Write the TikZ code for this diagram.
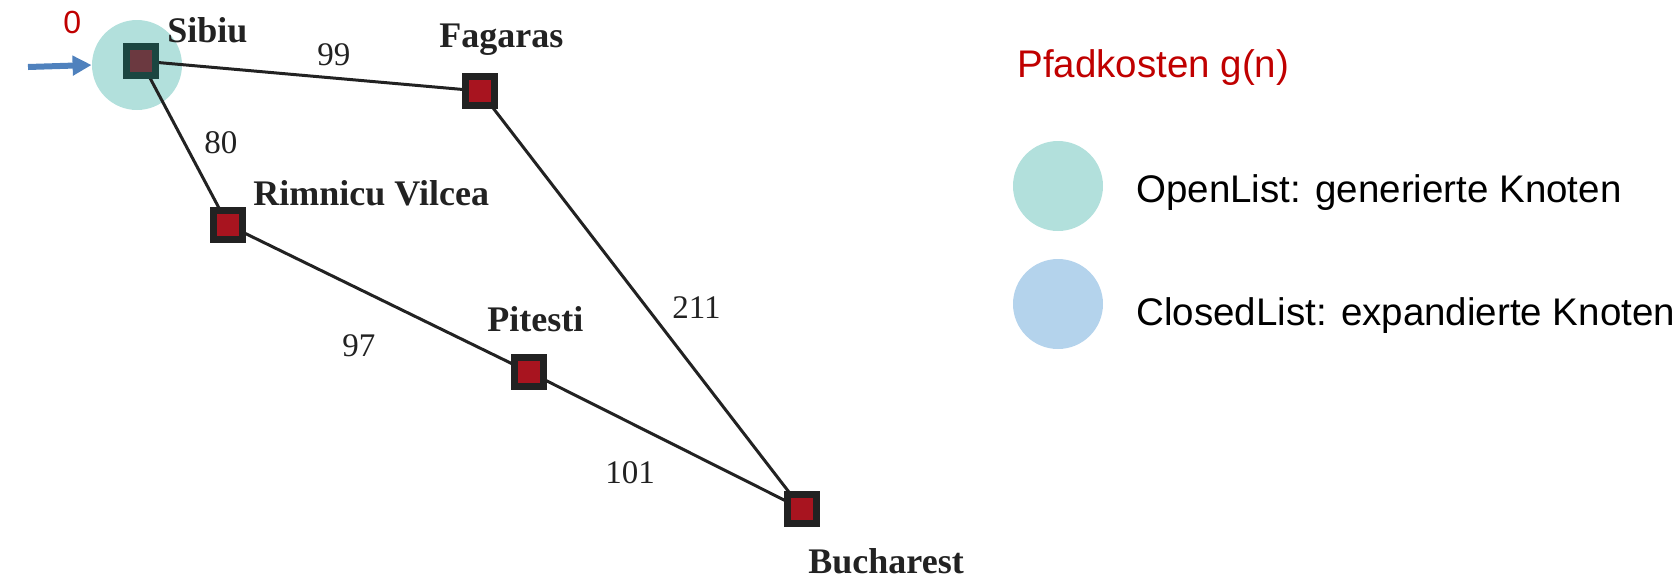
\documentclass[tikz,border=0pt]{standalone}
\usepackage{fontspec}
\setmainfont{Liberation Serif}
\newfontfamily\legfont{Liberation Sans}
\usetikzlibrary{arrows.meta}
\definecolor{openc}{HTML}{B2E0DC}
\definecolor{closedc}{HTML}{B4D3EC}
\definecolor{redtxt}{HTML}{C00000}
\definecolor{sqfill}{HTML}{A8141F}
\definecolor{sqline}{HTML}{222222}
\definecolor{arrowc}{HTML}{4F81BD}
\definecolor{sibline}{HTML}{1B4641}
\definecolor{sibfill}{HTML}{6B3940}
\tikzset{
  city/.style={draw=sqline, fill=sqfill, line width=3.5pt, minimum size=14.5pt, inner sep=0pt, shape=rectangle},
  cityname/.style={anchor=base west, inner sep=0pt, font=\fontsize{18}{20}\selectfont\bfseries, text=sqline},
  cost/.style={anchor=base west, inner sep=0pt, font=\fontsize{16.5}{18}\selectfont, text=sqline},
  road/.style={draw=sqline, line width=1.5pt},
  legtext/.style={anchor=base west, inner sep=0pt, font=\legfont\fontsize{19.25}{21}\selectfont},
  legdot/.style={circle, minimum size=45pt, inner sep=0pt},
}
\begin{document}
\begin{tikzpicture}[x=0.5pt,y=-0.5pt]
\useasboundingbox (0,0) rectangle (1678,585);
% open circle around Sibiu
\node[legdot, fill=openc] (sibcirc) at (137,65) {};
% cities
\node[city] (fag) at (480,91) {};
\node[city] (rim) at (228,225) {};
\node[city] (pit) at (529,372) {};
\node[city] (buc) at (802,509) {};
\node[city, draw=sibline, fill=sibfill] (sib) at (141,61) {};
% roads
\draw[road] (sib.center) -- (fag.center);
\draw[road] (sib.center) -- (rim.center);
\draw[road] (rim.center) -- (pit.center);
\draw[road] (pit.center) -- (buc.center);
\draw[road] (fag.center) -- (buc.center);
% redraw squares on top
\node[city] at (fag) {};
\node[city] at (rim) {};
\node[city] at (pit) {};
\node[city] at (buc) {};
\node[city, draw=sibline, fill=sibfill] at (sib) {};
% city names
\node[cityname] (lsib) at (167,42) {Sibiu};
\node[cityname] (lfag) at (439,47) {Fagaras};
\node[cityname] (lrim) at (253,205) {Rimnicu Vilcea};
\node[cityname] (lpit) at (487,331) {Pitesti};
\node[cityname] (lbuc) at (808,573) {Bucharest};
% costs
\node[cost] (c99) at (317,65) {99};
\node[cost] (c80) at (204,153) {80};
\node[cost] (c97) at (342,356) {97};
\node[cost] (c211) at (672,318) {211};
\node[cost] (c101) at (605,483) {101};
% start
\node[anchor=base west, inner sep=0pt, text=redtxt, font=\legfont\fontsize{16}{18}\selectfont] (g0) at (63,33) {0};
\coordinate (arrstart) at (28,67);
\draw[arrowc, line width=3pt, -{Triangle[length=9.5pt,width=9.5pt]}] (arrstart) -- (sibcirc.west);
% legend
\node[legtext, text=redtxt] (ltitle) at (1017,77) {Pfadkosten g(n)};
\node[legdot, fill=openc] (lopen) at (1058,186) {};
\node[legdot, fill=closedc] (lclosed) at (1058,304) {};
\node[legtext] (topen) at (1136,202) {OpenList: generierte Knoten};
\node[legtext] (tclosed) at (1136,325) {ClosedList: expandierte Knoten};
\end{tikzpicture}
\end{document}
